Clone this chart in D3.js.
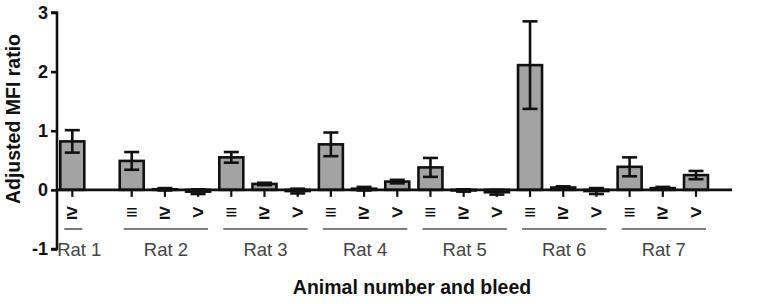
<!DOCTYPE html>
<html><head><meta charset="utf-8">
<script src="https://cdn.jsdelivr.net/npm/d3@7"></script>
<style>body{margin:0;background:#fff}svg{display:block}text{font-family:"Liberation Sans",Arial,sans-serif}</style>
</head><body><svg id="c" width="763" height="304"></svg>
<script>
// Data
const rats = ["Rat 1","Rat 2","Rat 3","Rat 4","Rat 5","Rat 6","Rat 7"];
const bleedLabels = ["≥","≡","≥",">","≡","≥",">","≡","≥",">","≡","≥",">","≡","≥",">","≡","≥",">"];
const barRat = [0,1,1,1,2,2,2,3,3,3,4,4,4,5,5,5,6,6,6];
const means = [0.82,0.49,0.01,-0.03,0.55,0.10,-0.02,0.77,0.02,0.14,0.38,-0.01,-0.04,2.11,0.04,-0.02,0.39,0.03,0.25];
const errs  = [0.19,0.15,0.02,0.04,0.09,0.02,0.04,0.20,0.03,0.03,0.16,0.02,0.04,0.74,0.02,0.05,0.16,0.02,0.07];
const yTicks = [-1,0,1,2,3];

const svg = d3.select("#c");
const gapAfterFirst = 0.79;
const pos = means.map((d,i)=> i===0 ? 0 : i + gapAfterFirst);
const x = d3.scaleLinear().domain([0, 18+gapAfterFirst]).range([72.3, 696]);
const y = d3.scaleLinear().domain([-1,3]).range([249,12.5]);
const bw = 24;

// bars
svg.selectAll("rect.bar").data(means).join("rect")
  .attr("x",(d,i)=>x(pos[i])-bw/2).attr("width",bw)
  .attr("y",d=>y(Math.max(0,d))).attr("height",d=>Math.abs(y(d)-y(0)))
  .attr("fill","#a3a3a3").attr("stroke","#111").attr("stroke-width",2.6);

// error bars
const eg = svg.append("g").attr("stroke","#111").attr("stroke-width",2.6);
means.forEach((m,i)=>{
  const cx = x(pos[i]), e = errs[i];
  eg.append("line").attr("x1",cx).attr("x2",cx).attr("y1",y(m+e)).attr("y2",y(m-e));
  eg.append("line").attr("x1",cx-7.5).attr("x2",cx+7.5).attr("y1",y(m+e)).attr("y2",y(m+e));
  eg.append("line").attr("x1",cx-7.5).attr("x2",cx+7.5).attr("y1",y(m-e)).attr("y2",y(m-e));
});

// y axis
const yAxis = d3.axisLeft(y).tickValues(yTicks).tickSize(6).tickPadding(3).tickFormat(d=>String(d));
const ya = svg.append("g").attr("transform","translate(57,0)").call(yAxis);
ya.select(".domain").attr("stroke","#111").attr("stroke-width",2.6).attr("d",`M-6,${y(3)}H0V${y(-1)}H-6`);
ya.selectAll(".tick line").attr("stroke","#111").attr("stroke-width",2.6);
ya.selectAll(".tick text").attr("font-size",18).attr("font-weight","bold").attr("fill","#111");

// x axis (zero line)
svg.append("line").attr("x1",57).attr("x2",732).attr("y1",y(0)).attr("y2",y(0))
  .attr("stroke","#111").attr("stroke-width",2.6);
// x ticks
svg.selectAll("line.xt").data(pos).join("line").attr("class","xt")
  .attr("x1",d=>x(d)).attr("x2",d=>x(d)).attr("y1",y(0)).attr("y2",y(0)+7)
  .attr("stroke","#111").attr("stroke-width",2.2);
// bleed labels
svg.selectAll("text.bl").data(bleedLabels).join("text").attr("class","bl")
  .attr("x",(d,i)=>x(pos[i])).attr("y",219).attr("text-anchor","middle")
  .attr("font-size",20).attr("font-weight","bold").attr("fill","#111").text(d=>d);

// group lines and labels
rats.forEach((r,k)=>{
  const idx = barRat.map((v,i)=>v===k?i:-1).filter(i=>i>=0);
  const x0 = x(pos[idx[0]]) - 8, x1 = x(pos[idx[idx.length-1]]) + 10;
  svg.append("line").attr("x1",x0).attr("x2",x1).attr("y1",229).attr("y2",229)
    .attr("stroke","#555").attr("stroke-width",1.6);
  svg.append("text").attr("x",(x0+x1)/2 + (k===0?6:0)).attr("y",255.5).attr("text-anchor","middle")
    .attr("font-size",18.5).attr("fill","#444").text(r);
});

// axis titles
svg.append("text").attr("x",412).attr("y",294).attr("text-anchor","middle")
  .attr("font-size",19.5).attr("font-weight","bold").attr("fill","#111").text("Animal number and bleed");
svg.append("text").attr("transform","translate(20,119) rotate(-90)").attr("text-anchor","middle")
  .attr("font-size",19.5).attr("font-weight","bold").attr("fill","#111").text("Adjusted MFI ratio");
</script></body></html>
